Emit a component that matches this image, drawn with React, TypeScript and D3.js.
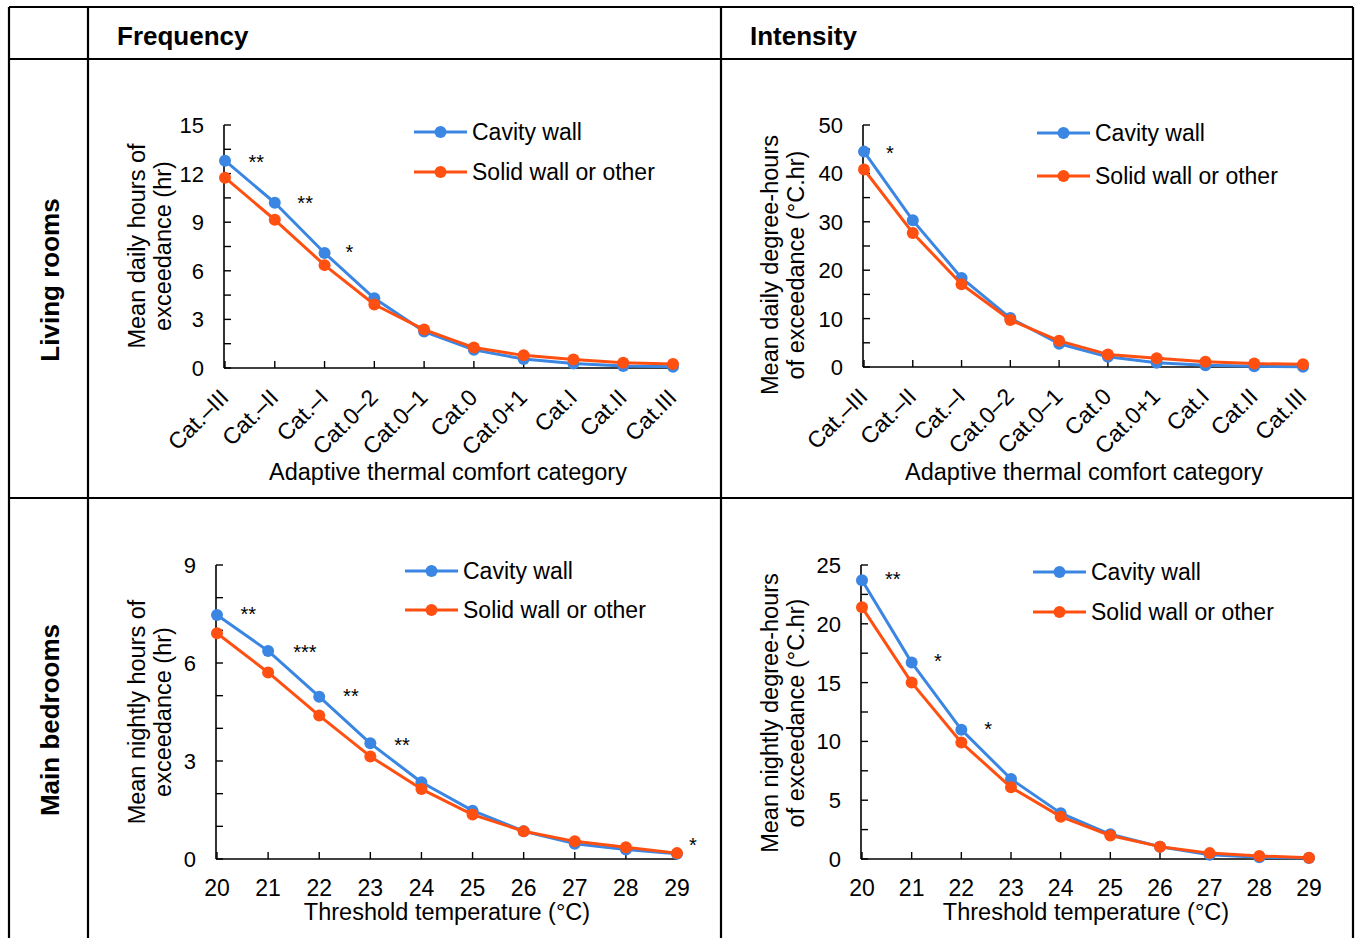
import React from "react";
import * as d3 from "d3";

// ---------- Data ----------
const categories = ["Cat.–III", "Cat.–II", "Cat.–I", "Cat.0–2", "Cat.0–1", "Cat.0", "Cat.0+1", "Cat.I", "Cat.II", "Cat.III"];
const thresholds = ["20", "21", "22", "23", "24", "25", "26", "27", "28", "29"];

const seriesNames = ["Cavity wall", "Solid wall or other"];

// Living rooms – frequency (mean daily hours of exceedance)
const lrFreqCavity = [12.8, 10.2, 7.1, 4.3, 2.25, 1.12, 0.55, 0.28, 0.12, 0.07];
const lrFreqSolid = [11.75, 9.15, 6.35, 3.92, 2.37, 1.26, 0.78, 0.52, 0.33, 0.24];

// Living rooms – intensity (mean daily degree-hours)
const lrIntCavity = [44.5, 30.3, 18.4, 10.1, 4.8, 2.1, 0.9, 0.35, 0.15, 0.05];
const lrIntSolid = [40.8, 27.7, 17.1, 9.7, 5.4, 2.6, 1.8, 1.1, 0.7, 0.55];

// Main bedrooms – frequency (mean nightly hours of exceedance)
const mbFreqCavity = [7.47, 6.37, 4.97, 3.54, 2.35, 1.48, 0.85, 0.47, 0.29, 0.16];
const mbFreqSolid = [6.91, 5.71, 4.39, 3.14, 2.14, 1.36, 0.85, 0.54, 0.36, 0.18];

// Main bedrooms – intensity (mean nightly degree-hours)
const mbIntCavity = [23.7, 16.7, 11.0, 6.8, 3.9, 2.1, 1.05, 0.37, 0.14, 0.08];
const mbIntSolid = [21.4, 15.0, 9.9, 6.1, 3.6, 2.0, 1.05, 0.5, 0.26, 0.1];

// Significance markers: position along category index, value at marker centre
const lrFreqSig = [
  { at: 0.63, v: 12.97, s: "**" },
  { at: 1.61, v: 10.45, s: "**" },
  { at: 2.5, v: 7.38, s: "*" },
];
const lrIntSig = [{ at: 0.53, v: 45.1, s: "*" }];
const mbFreqSig = [
  { at: 0.61, v: 7.62, s: "**" },
  { at: 1.72, v: 6.45, s: "***" },
  { at: 2.62, v: 5.1, s: "**" },
  { at: 3.62, v: 3.62, s: "**" },
  { at: 9.31, v: 0.55, s: "*" },
];
const mbIntSig = [
  { at: 0.62, v: 24.15, s: "**" },
  { at: 1.53, v: 17.15, s: "*" },
  { at: 2.54, v: 11.43, s: "*" },
];

const columnHeaders = ["Frequency", "Intensity"];
const rowHeaders = ["Living rooms", "Main bedrooms"];

// ---------- Style ----------
const BLUE = "#3A86E2";
const ORANGE = "#FF5011";
const FONT = "Arial, 'Liberation Sans', Helvetica, sans-serif";
const YTICK_FS = 22;
const XTICK_FS = 23;
const TITLE_FS = 23.5;
const LEGEND_FS = 23;

type Sig = { at: number; v: number; s: string };
type PanelCfg = {
  x0: number; x1: number; yTop: number; yBot: number;
  yMax: number; minorStep: number; majorStep: number;
  labels: string[]; rotated: boolean;
  cavity: number[]; solid: number[]; sig: Sig[];
  yTitle: string[]; yTitleX: number[]; yTitleCy: number;
  xTitle: string; xTitleCx: number; xTitleY: number;
  legendX: number; legendY: number[];
};

const panels: PanelCfg[] = [
  {
    x0: 225, x1: 673, yTop: 125, yBot: 368, yMax: 15, minorStep: 1.5, majorStep: 3,
    labels: categories, rotated: true, cavity: lrFreqCavity, solid: lrFreqSolid, sig: lrFreqSig,
    yTitle: ["Mean daily hours of", "exceedance (hr)"], yTitleX: [145, 171], yTitleCy: 246,
    xTitle: "Adaptive thermal comfort category", xTitleCx: 448, xTitleY: 480,
    legendX: 414, legendY: [132, 172],
  },
  {
    x0: 864, x1: 1303, yTop: 125, yBot: 367, yMax: 50, minorStep: 5, majorStep: 10,
    labels: categories, rotated: true, cavity: lrIntCavity, solid: lrIntSolid, sig: lrIntSig,
    yTitle: ["Mean daily degree-hours", "of exceedance (°C.hr)"], yTitleX: [778, 804], yTitleCy: 265,
    xTitle: "Adaptive thermal comfort category", xTitleCx: 1084, xTitleY: 480,
    legendX: 1037, legendY: [133, 176],
  },
  {
    x0: 217, x1: 677, yTop: 565, yBot: 859, yMax: 9, minorStep: 1, majorStep: 3,
    labels: thresholds, rotated: false, cavity: mbFreqCavity, solid: mbFreqSolid, sig: mbFreqSig,
    yTitle: ["Mean nightly hours of", "exceedance (hr)"], yTitleX: [145, 171], yTitleCy: 712,
    xTitle: "Threshold temperature (°C)", xTitleCx: 447, xTitleY: 920,
    legendX: 405, legendY: [571, 610],
  },
  {
    x0: 862, x1: 1309, yTop: 565, yBot: 859, yMax: 25, minorStep: 2.5, majorStep: 5,
    labels: thresholds, rotated: false, cavity: mbIntCavity, solid: mbIntSolid, sig: mbIntSig,
    yTitle: ["Mean nightly degree-hours", "of exceedance (°C.hr)"], yTitleX: [778, 804], yTitleCy: 713,
    xTitle: "Threshold temperature (°C)", xTitleCx: 1086, xTitleY: 920,
    legendX: 1033, legendY: [572, 612],
  },
];

function Panel({ p }: { p: PanelCfg }) {
  const x = d3.scaleLinear().domain([0, p.labels.length - 1]).range([p.x0, p.x1]);
  const y = d3.scaleLinear().domain([0, p.yMax]).range([p.yBot, p.yTop]);
  const line = d3.line<number>().x((_, i) => x(i)).y((d) => y(d));
  const minorTicks = d3.range(0, p.yMax + 1e-9, p.minorStep);
  const majorTicks = d3.range(0, p.yMax + 1e-9, p.majorStep);
  const axisX = p.x0 - 1;
  const series = [
    { vals: p.cavity, color: BLUE },
    { vals: p.solid, color: ORANGE },
  ];
  return (
    <g fontFamily={FONT}>
      {/* y axis */}
      <line x1={axisX} x2={axisX} y1={y(p.yMax)} y2={y(0)} stroke="#000" strokeWidth={1.6} />
      {minorTicks.map((t, i) => (
        <line key={"yt" + i} x1={axisX} x2={axisX + 7} y1={y(t)} y2={y(t)} stroke="#000" strokeWidth={1.4} />
      ))}
      {majorTicks.map((t, i) => (
        <text key={"yl" + i} x={axisX - 20} y={y(t)} dy="0.36em" textAnchor="end" fontSize={YTICK_FS} fill="#000">
          {t}
        </text>
      ))}
      {/* x axis */}
      <line x1={axisX} x2={p.x1} y1={y(0)} y2={y(0)} stroke="#000" strokeWidth={1.6} />
      {p.labels.map((_, i) => (
        <line key={"xt" + i} x1={x(i)} x2={x(i)} y1={y(0)} y2={y(0) - 7} stroke="#000" strokeWidth={1.4} />
      ))}
      {p.labels.map((l, i) =>
        p.rotated ? (
          <text key={"xl" + i} transform={`translate(${x(i) + 5},${y(0) + 31}) rotate(-45)`} textAnchor="end" fontSize={XTICK_FS} fill="#000">
            {l}
          </text>
        ) : (
          <text key={"xl" + i} x={x(i)} y={y(0) + 37} textAnchor="middle" fontSize={XTICK_FS} fill="#000">
            {l}
          </text>
        )
      )}
      {/* axis titles */}
      {p.yTitle.map((t, i) => (
        <text key={"yti" + i} transform={`translate(${p.yTitleX[i]},${p.yTitleCy}) rotate(-90)`} textAnchor="middle" fontSize={TITLE_FS} fill="#000">
          {t}
        </text>
      ))}
      <text x={p.xTitleCx} y={p.xTitleY} textAnchor="middle" fontSize={TITLE_FS} fill="#000">
        {p.xTitle}
      </text>
      {/* series */}
      {series.map((s, k) => (
        <g key={"s" + k}>
          <path d={line(s.vals) || ""} fill="none" stroke={s.color} strokeWidth={3} strokeLinejoin="round" />
          {s.vals.map((v, i) => (
            <circle key={i} cx={x(i)} cy={y(v)} r={6} fill={s.color} />
          ))}
        </g>
      ))}
      {/* significance markers */}
      {p.sig.map((m, i) => (
        <text key={"sg" + i} x={x(m.at)} y={y(m.v)} dy="0.55em" textAnchor="middle" fontSize={20} fill="#000">
          {m.s}
        </text>
      ))}
      {/* legend */}
      {series.map((s, k) => (
        <g key={"lg" + k}>
          <line x1={p.legendX} x2={p.legendX + 53} y1={p.legendY[k]} y2={p.legendY[k]} stroke={s.color} strokeWidth={3} />
          <circle cx={p.legendX + 26.5} cy={p.legendY[k]} r={6} fill={s.color} />
          <text x={p.legendX + 58} y={p.legendY[k]} dy="0.36em" fontSize={LEGEND_FS} fill="#000">
            {seriesNames[k]}
          </text>
        </g>
      ))}
    </g>
  );
}

export default function App() {
  const W = 1356;
  const H = 938;
  const colX = [9, 88, 721, 1353];
  const rowY = [7, 59, 498];
  return (
    <svg width={W} height={H} style={{ position: "absolute", left: 0, top: 0, background: "#fff" }}>
      <rect x={0} y={0} width={W} height={H} fill="#fff" />
      {/* table grid */}
      <g stroke="#000" strokeWidth={2.2}>
        <line x1={colX[0]} x2={colX[3]} y1={rowY[0]} y2={rowY[0]} />
        <line x1={colX[0]} x2={colX[3]} y1={rowY[1]} y2={rowY[1]} />
        <line x1={colX[0]} x2={colX[3]} y1={rowY[2]} y2={rowY[2]} />
        {colX.map((cx, i) => (
          <line key={i} x1={cx} x2={cx} y1={rowY[0]} y2={H} />
        ))}
      </g>
      {/* headers */}
      {columnHeaders.map((h, i) => (
        <text key={h} x={colX[i + 1] + 29} y={45} fontFamily={FONT} fontWeight="bold" fontSize={26} fill="#000">
          {h}
        </text>
      ))}
      {rowHeaders.map((h, i) => (
        <text
          key={h}
          transform={`translate(59,${i === 0 ? 280 : 720}) rotate(-90)`}
          textAnchor="middle"
          fontFamily={FONT}
          fontWeight="bold"
          fontSize={26}
          fill="#000"
        >
          {h}
        </text>
      ))}
      {panels.map((p, i) => (
        <Panel key={i} p={p} />
      ))}
    </svg>
  );
}
